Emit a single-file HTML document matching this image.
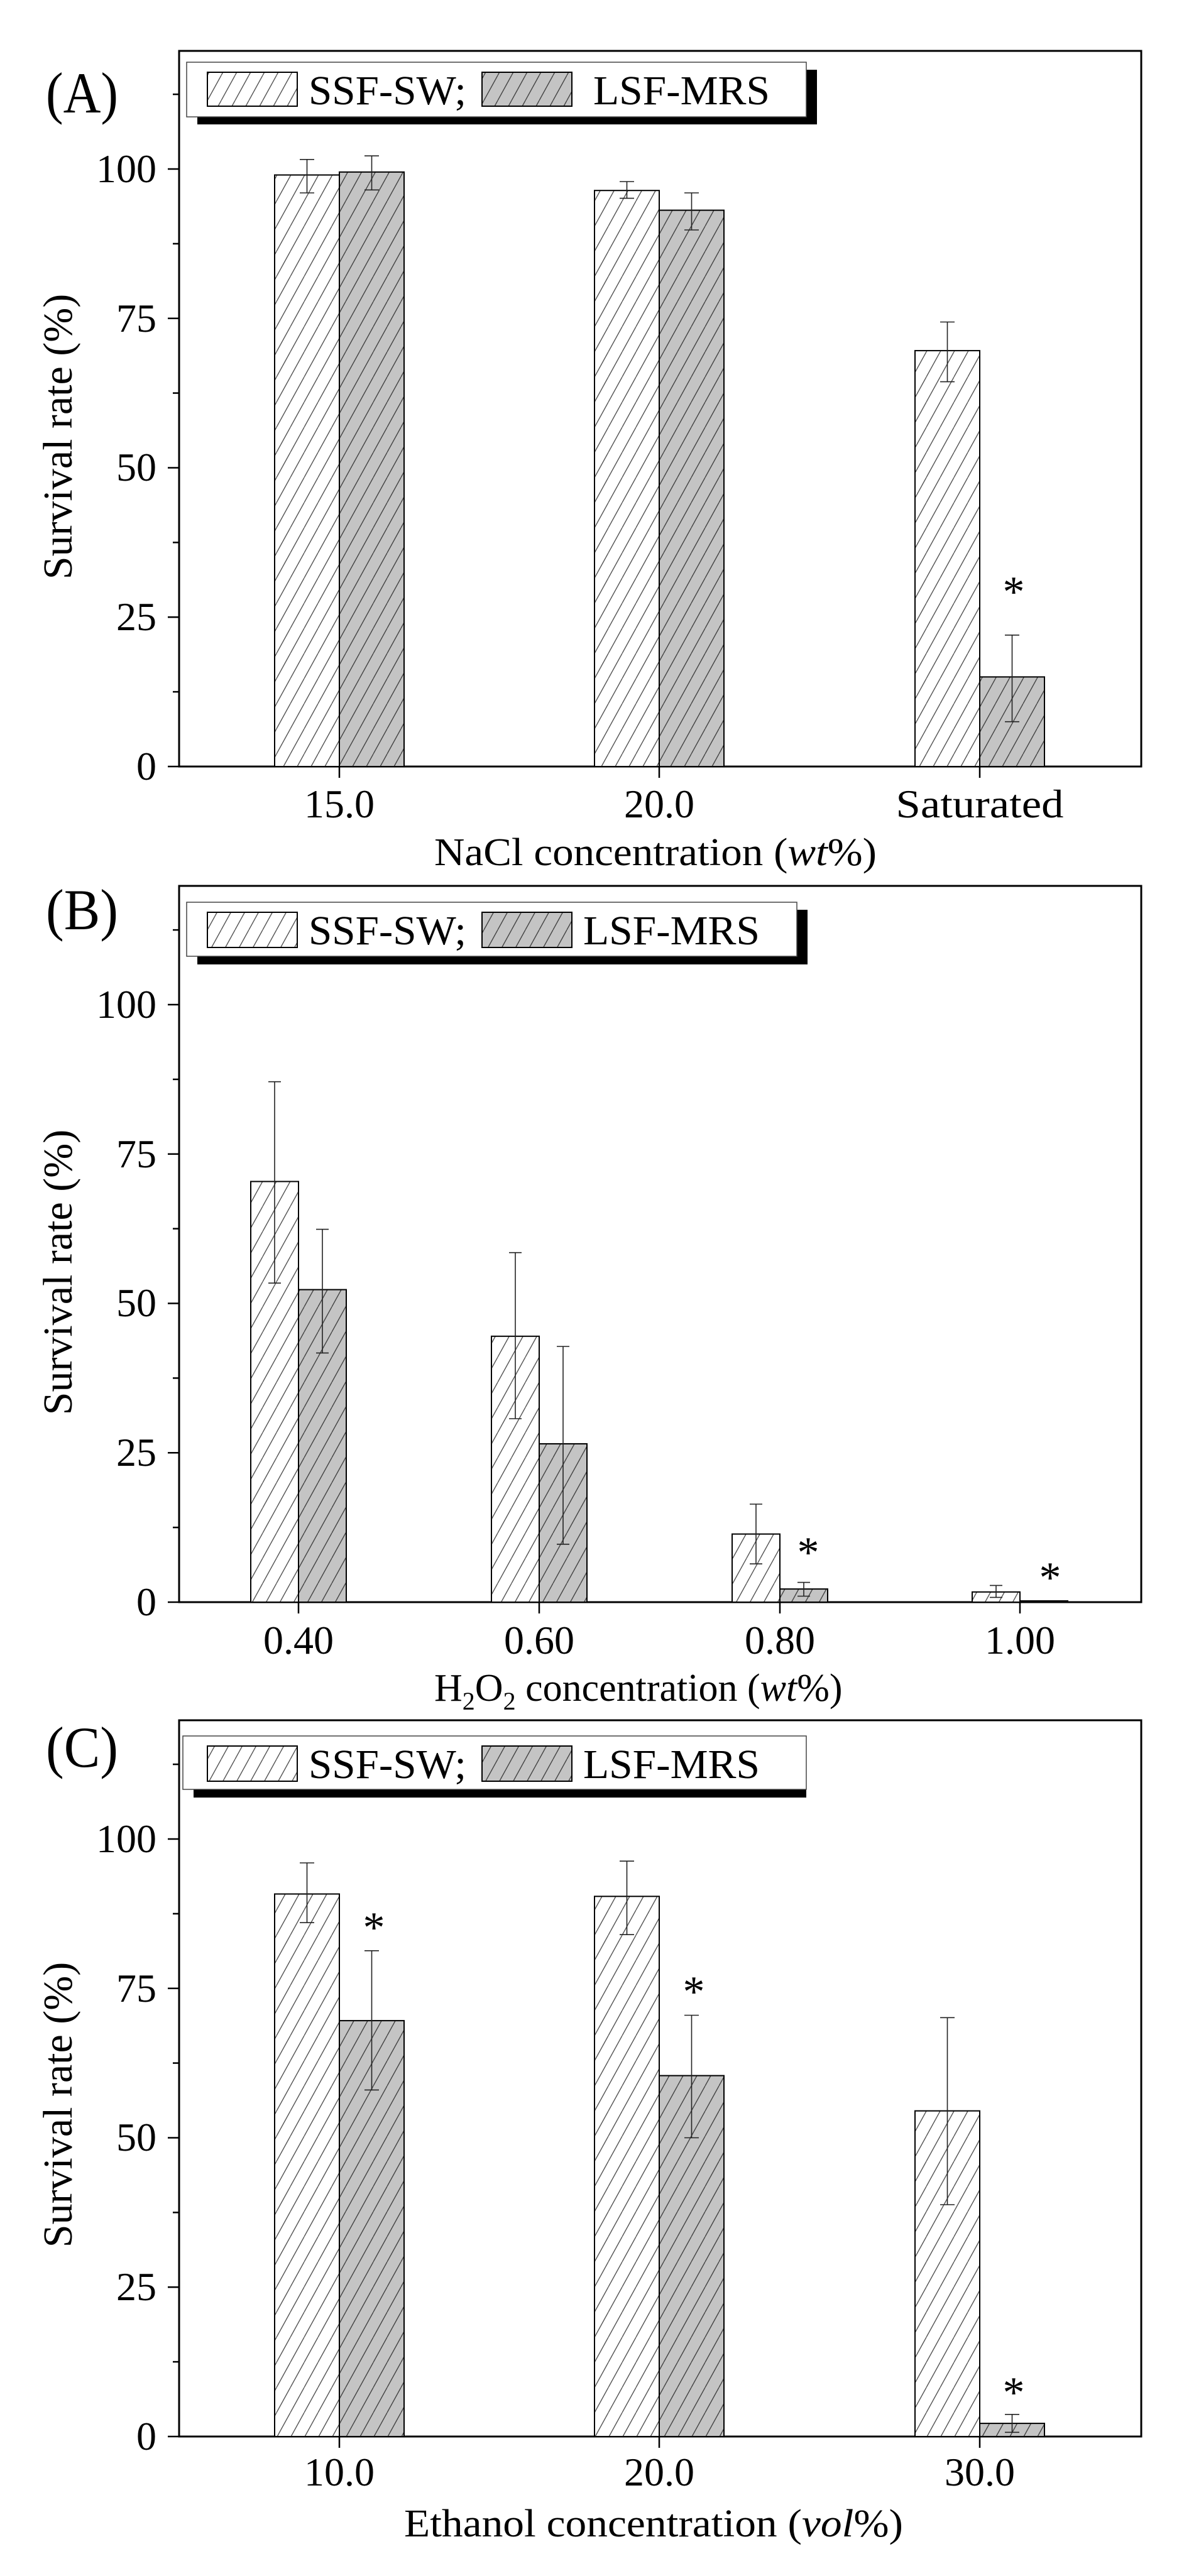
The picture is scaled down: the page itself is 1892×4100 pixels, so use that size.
<!DOCTYPE html>
<html><head><meta charset="utf-8"><style>
html,body{margin:0;padding:0;background:#fff}
svg{display:block}
text{font-family:"Liberation Serif",serif;fill:#000}
</style></head><body>
<svg width="1892" height="4100" viewBox="0 0 1892 4100" xmlns="http://www.w3.org/2000/svg">
<defs>
<pattern id="hw" patternUnits="userSpaceOnUse" width="22" height="40">
<rect width="22" height="40" fill="#fff"/>
<path d="M0,40 L22,0 M-11,20 L0,0 M22,40 L33,20" stroke="#555" stroke-width="1.4"/>
</pattern>
<pattern id="hg" patternUnits="userSpaceOnUse" width="22" height="40">
<rect width="22" height="40" fill="#c4c4c4"/>
<path d="M0,40 L22,0 M-11,20 L0,0 M22,40 L33,20" stroke="#444" stroke-width="1.4"/>
</pattern>
</defs>

<!-- ================= PANEL A ================= -->
<g>
<rect x="285" y="81" width="1531" height="1139" fill="none" stroke="#000" stroke-width="3"/>
<!-- y ticks -->
<g stroke="#000" stroke-width="2.5">
<line x1="267" y1="1220" x2="285" y2="1220"/><line x1="275" y1="1101.1" x2="285" y2="1101.1"/>
<line x1="267" y1="982.25" x2="285" y2="982.25"/><line x1="275" y1="863.4" x2="285" y2="863.4"/>
<line x1="267" y1="744.5" x2="285" y2="744.5"/><line x1="275" y1="625.6" x2="285" y2="625.6"/>
<line x1="267" y1="506.75" x2="285" y2="506.75"/><line x1="275" y1="387.9" x2="285" y2="387.9"/>
<line x1="267" y1="269" x2="285" y2="269"/><line x1="275" y1="150.1" x2="285" y2="150.1"/>
<line x1="540" y1="1220" x2="540" y2="1238"/><line x1="1049" y1="1220" x2="1049" y2="1238"/><line x1="1559" y1="1220" x2="1559" y2="1238"/>
</g>
<g font-size="64" text-anchor="end">
<text x="249" y="1241">0</text><text x="249" y="1003">25</text><text x="249" y="765">50</text>
<text x="249" y="528">75</text><text x="249" y="290">100</text>
</g>
<!-- bars -->
<g stroke="#000" stroke-width="2">
<rect x="437" y="278.5" width="103" height="941.5" fill="url(#hw)"/>
<rect x="540" y="273.8" width="103" height="946.2" fill="url(#hg)"/>
<rect x="946" y="303.2" width="103" height="916.8" fill="url(#hw)"/>
<rect x="1049" y="334.6" width="103" height="885.4" fill="url(#hg)"/>
<rect x="1456" y="558.1" width="103" height="661.9" fill="url(#hw)"/>
<rect x="1559" y="1077.4" width="103" height="142.6" fill="url(#hg)"/>
</g>
<g stroke="#222" stroke-width="1.6" fill="none">
<path d="M488.5,253.8V307M477,253.8h23M477,307h23"/>
<path d="M591.5,248.1V302.3M580,248.1h23M580,302.3h23"/>
<path d="M997.5,289V315.6M986,289h23M986,315.6h23"/>
<path d="M1100.5,307V366M1089,307h23M1089,366h23"/>
<path d="M1507.5,512.5V607.6M1496,512.5h23M1496,607.6h23"/>
<path d="M1610.5,1010.8V1148.7M1599,1010.8h23M1599,1148.7h23"/>
</g>
<text x="1613" y="965" font-size="70" text-anchor="middle">*</text>
<!-- legend -->
<rect x="314" y="111" width="986" height="87" fill="#000"/>
<rect x="297" y="99" width="986" height="87" fill="#fff" stroke="#444" stroke-width="1.5"/>
<rect x="330" y="115" width="143" height="54" fill="url(#hw)" stroke="#000" stroke-width="2"/>
<text x="491" y="166" font-size="66" textLength="251" lengthAdjust="spacingAndGlyphs">SSF-SW;</text>
<rect x="767" y="115" width="143" height="54" fill="url(#hg)" stroke="#000" stroke-width="2"/>
<text x="944" y="166" font-size="66" textLength="281" lengthAdjust="spacingAndGlyphs">LSF-MRS</text>
<text x="73" y="179" font-size="92" textLength="115" lengthAdjust="spacingAndGlyphs">(A)</text>
<g font-size="64" text-anchor="middle">
<text x="540" y="1301">15.0</text><text x="1049" y="1301">20.0</text>
<text x="1559" y="1301" textLength="267" lengthAdjust="spacingAndGlyphs">Saturated</text>
</g>
<text x="691" y="1377" font-size="62" textLength="704" lengthAdjust="spacingAndGlyphs">NaCl concentration (<tspan font-style="italic">wt</tspan>%)</text>
<text transform="translate(114,695) rotate(-90)" font-size="66" text-anchor="middle">Survival rate (%)</text>
</g>

<!-- ================= PANEL B ================= -->
<g>
<rect x="285" y="1410" width="1531" height="1140" fill="none" stroke="#000" stroke-width="3"/>
<g stroke="#000" stroke-width="2.5">
<line x1="267" y1="2550" x2="285" y2="2550"/><line x1="275" y1="2431.1" x2="285" y2="2431.1"/>
<line x1="267" y1="2312.25" x2="285" y2="2312.25"/><line x1="275" y1="2193.4" x2="285" y2="2193.4"/>
<line x1="267" y1="2074.5" x2="285" y2="2074.5"/><line x1="275" y1="1955.6" x2="285" y2="1955.6"/>
<line x1="267" y1="1836.75" x2="285" y2="1836.75"/><line x1="275" y1="1717.9" x2="285" y2="1717.9"/>
<line x1="267" y1="1599" x2="285" y2="1599"/><line x1="275" y1="1480.1" x2="285" y2="1480.1"/>
<line x1="475" y1="2550" x2="475" y2="2568"/><line x1="858" y1="2550" x2="858" y2="2568"/>
<line x1="1241" y1="2550" x2="1241" y2="2568"/><line x1="1623" y1="2550" x2="1623" y2="2568"/>
</g>
<g font-size="64" text-anchor="end">
<text x="249" y="2571">0</text><text x="249" y="2333">25</text><text x="249" y="2095">50</text>
<text x="249" y="1858">75</text><text x="249" y="1620">100</text>
</g>
<g stroke="#000" stroke-width="2">
<rect x="399" y="1880.5" width="76" height="669.5" fill="url(#hw)"/>
<rect x="475" y="2052.6" width="76" height="497.4" fill="url(#hg)"/>
<rect x="782" y="2126.8" width="76" height="423.2" fill="url(#hw)"/>
<rect x="858" y="2298" width="76" height="252" fill="url(#hg)"/>
<rect x="1165" y="2441.6" width="76" height="108.4" fill="url(#hw)"/>
<rect x="1241" y="2529.1" width="76" height="20.9" fill="url(#hg)"/>
<rect x="1547" y="2533.8" width="76" height="16.2" fill="url(#hw)"/>
<rect x="1623" y="2548" width="76" height="2" fill="url(#hg)"/>
</g>
<g stroke="#222" stroke-width="1.6" fill="none">
<path d="M437,1721.7V2042.2M427,1721.7h20M427,2042.2h20"/>
<path d="M513,1956.6V2153.4M503,1956.6h20M503,2153.4h20"/>
<path d="M820,1993.7V2258M810,1993.7h20M810,2258h20"/>
<path d="M896,2143V2457.8M886,2143h20M886,2457.8h20"/>
<path d="M1203,2394V2489.1M1193,2394h20M1193,2489.1h20"/>
<path d="M1279,2518.6V2540.5M1269,2518.6h20M1269,2540.5h20"/>
<path d="M1585,2523.4V2542.4M1575,2523.4h20M1575,2542.4h20"/>
</g>
<text x="1286" y="2494" font-size="70" text-anchor="middle">*</text>
<text x="1671" y="2534" font-size="70" text-anchor="middle">*</text>
<rect x="314" y="1448" width="971" height="87" fill="#000"/>
<rect x="297" y="1436" width="971" height="86" fill="#fff" stroke="#444" stroke-width="1.5"/>
<rect x="330" y="1452" width="143" height="56" fill="url(#hw)" stroke="#000" stroke-width="2"/>
<text x="491" y="1503" font-size="66" textLength="251" lengthAdjust="spacingAndGlyphs">SSF-SW;</text>
<rect x="767" y="1452" width="143" height="56" fill="url(#hg)" stroke="#000" stroke-width="2"/>
<text x="928" y="1503" font-size="66" textLength="281" lengthAdjust="spacingAndGlyphs">LSF-MRS</text>
<text x="73" y="1479" font-size="92" textLength="115" lengthAdjust="spacingAndGlyphs">(B)</text>
<g font-size="64" text-anchor="middle">
<text x="475" y="2632">0.40</text><text x="858" y="2632">0.60</text>
<text x="1241" y="2632">0.80</text><text x="1623" y="2632">1.00</text>
</g>
<text x="691" y="2707" font-size="62">H<tspan font-size="40" dy="14">2</tspan><tspan dy="-14">O</tspan><tspan font-size="40" dy="14">2</tspan><tspan dy="-14"> concentration (</tspan><tspan font-style="italic">wt</tspan>%)</text>
<text transform="translate(114,2025) rotate(-90)" font-size="66" text-anchor="middle">Survival rate (%)</text>
</g>

<!-- ================= PANEL C ================= -->
<g>
<rect x="285" y="2738" width="1531" height="1140" fill="none" stroke="#000" stroke-width="3"/>
<g stroke="#000" stroke-width="2.5">
<line x1="267" y1="3878" x2="285" y2="3878"/><line x1="275" y1="3759.1" x2="285" y2="3759.1"/>
<line x1="267" y1="3640.25" x2="285" y2="3640.25"/><line x1="275" y1="3521.4" x2="285" y2="3521.4"/>
<line x1="267" y1="3402.5" x2="285" y2="3402.5"/><line x1="275" y1="3283.6" x2="285" y2="3283.6"/>
<line x1="267" y1="3164.75" x2="285" y2="3164.75"/><line x1="275" y1="3045.9" x2="285" y2="3045.9"/>
<line x1="267" y1="2927" x2="285" y2="2927"/><line x1="275" y1="2808.1" x2="285" y2="2808.1"/>
<line x1="540" y1="3878" x2="540" y2="3896"/><line x1="1049" y1="3878" x2="1049" y2="3896"/><line x1="1559" y1="3878" x2="1559" y2="3896"/>
</g>
<g font-size="64" text-anchor="end">
<text x="249" y="3899">0</text><text x="249" y="3661">25</text><text x="249" y="3423">50</text>
<text x="249" y="3186">75</text><text x="249" y="2948">100</text>
</g>
<g stroke="#000" stroke-width="2">
<rect x="437" y="3014.5" width="103" height="863.5" fill="url(#hw)"/>
<rect x="540" y="3216.1" width="103" height="661.9" fill="url(#hg)"/>
<rect x="946" y="3018.3" width="103" height="859.7" fill="url(#hw)"/>
<rect x="1049" y="3303.6" width="103" height="574.4" fill="url(#hg)"/>
<rect x="1456" y="3359.7" width="103" height="518.3" fill="url(#hw)"/>
<rect x="1559" y="3857.1" width="103" height="20.9" fill="url(#hg)"/>
</g>
<g stroke="#222" stroke-width="1.6" fill="none">
<path d="M488.5,2965V3060.1M477,2965h23M477,3060.1h23"/>
<path d="M591.5,3104.8V3326.4M580,3104.8h23M580,3326.4h23"/>
<path d="M997.5,2962.2V3079.2M986,2962.2h23M986,3079.2h23"/>
<path d="M1100.5,3207.5V3402.5M1089,3207.5h23M1089,3402.5h23"/>
<path d="M1507.5,3211.3V3509M1496,3211.3h23M1496,3509h23"/>
<path d="M1610.5,3842.8V3871.3M1599,3842.8h23M1599,3871.3h23"/>
</g>
<text x="595" y="3091" font-size="70" text-anchor="middle">*</text>
<text x="1104" y="3193" font-size="70" text-anchor="middle">*</text>
<text x="1613" y="3831" font-size="70" text-anchor="middle">*</text>
<rect x="308" y="2775" width="975" height="86" fill="#000"/>
<rect x="291" y="2763" width="992" height="85" fill="#fff" stroke="#444" stroke-width="1.5"/>
<rect x="330" y="2779" width="143" height="56" fill="url(#hw)" stroke="#000" stroke-width="2"/>
<text x="491" y="2830" font-size="66" textLength="251" lengthAdjust="spacingAndGlyphs">SSF-SW;</text>
<rect x="767" y="2779" width="143" height="56" fill="url(#hg)" stroke="#000" stroke-width="2"/>
<text x="928" y="2830" font-size="66" textLength="281" lengthAdjust="spacingAndGlyphs">LSF-MRS</text>
<text x="73" y="2812" font-size="92" textLength="115" lengthAdjust="spacingAndGlyphs">(C)</text>
<g font-size="64" text-anchor="middle">
<text x="540" y="3956">10.0</text><text x="1049" y="3956">20.0</text><text x="1559" y="3956">30.0</text>
</g>
<text x="643" y="4037" font-size="62" textLength="794" lengthAdjust="spacingAndGlyphs">Ethanol concentration (<tspan font-style="italic">vol</tspan>%)</text>
<text transform="translate(114,3350) rotate(-90)" font-size="66" text-anchor="middle">Survival rate (%)</text>
</g>
</svg>
</body></html>
